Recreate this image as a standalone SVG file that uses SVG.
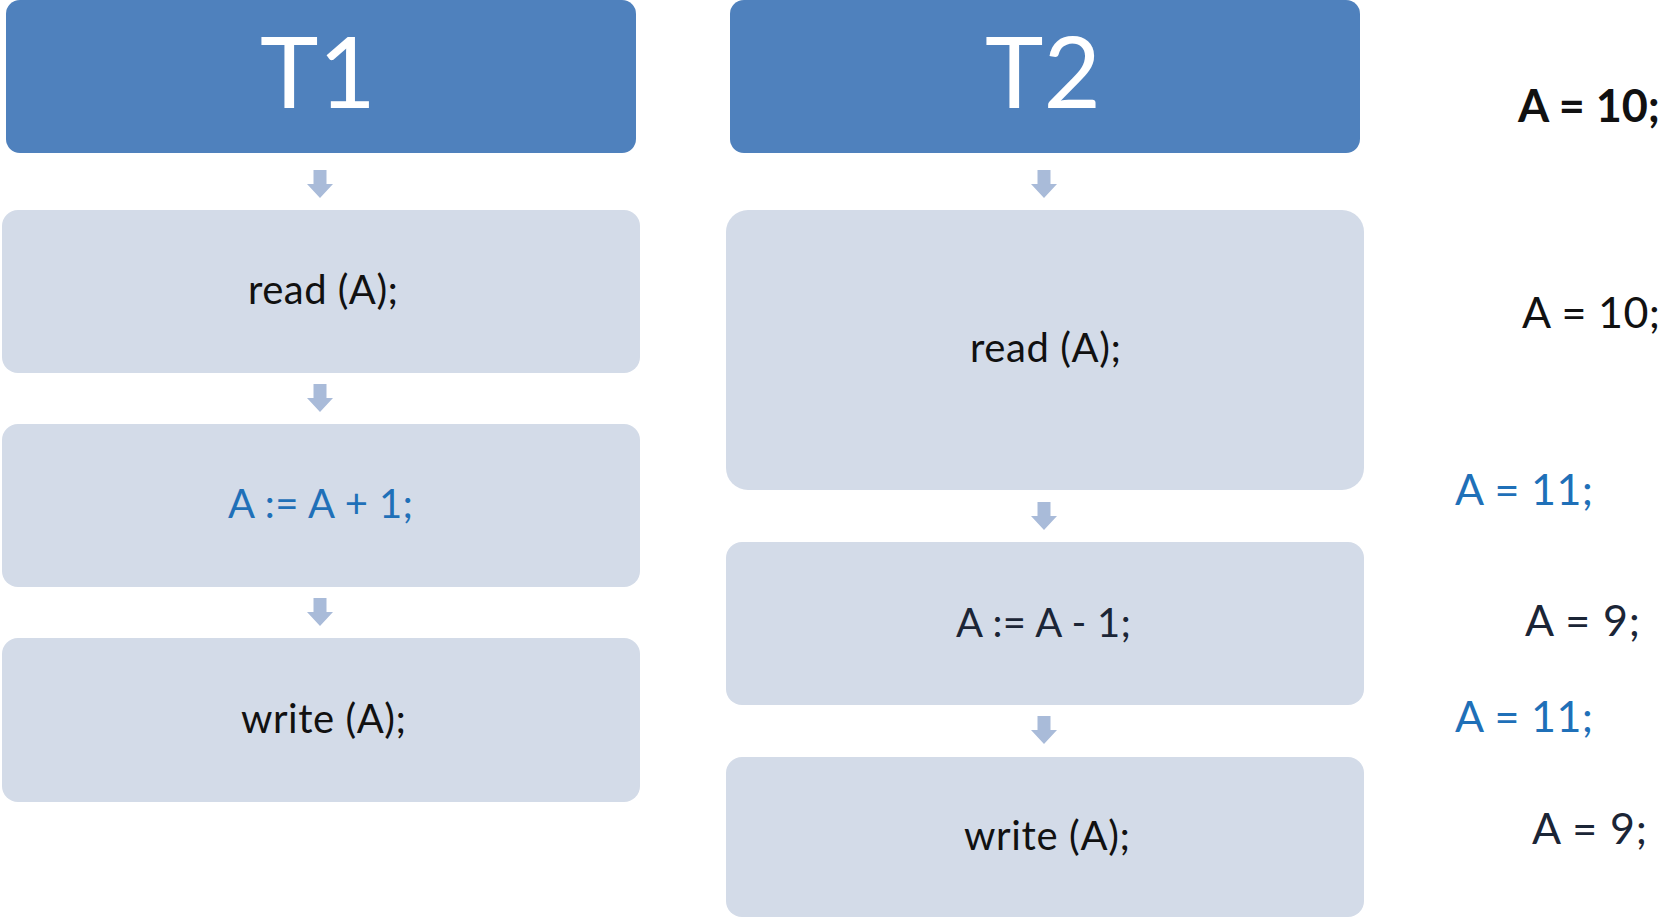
<svg xmlns="http://www.w3.org/2000/svg" width="1671" height="918" viewBox="0 0 1671 918">
  <defs>
    <style>
      .head { fill: #4f81bd; }
      .step { fill: #d3dbe8; }
      .arrow { fill: #a9bbd9; }
      .title { font-family: Lato, "Liberation Sans", sans-serif; font-size: 99px; fill: #ffffff; text-anchor: middle; }
      .code { font-family: Lato, "Liberation Sans", sans-serif; font-size: 40px; fill: #111111; }
      .val { font-family: Lato, "Liberation Sans", sans-serif; font-size: 43px; fill: #111111; }
      .bold { font-weight: bold; font-size: 45px; }
      text.blue { fill: #1f70b8; }
      text.navy { fill: #1b2536; }
    </style>
    <!-- down arrow, origin at top centre -->
    <path id="down" d="M -6.5 0 H 6.5 V 14 H 13 L 0 28 L -13 14 H -6.5 Z"/>
  </defs>
  <rect width="1671" height="918" fill="#ffffff"/>

  <!-- T1 column -->
  <g id="t1-head">
    <rect class="head" x="6" y="0" width="630" height="153" rx="14"/>
    <text class="title" x="318" y="108">T1</text>
  </g>
  <g id="t1-read">
    <rect class="step" x="2" y="210" width="638" height="163" rx="16"/>
    <text class="code" x="248" y="304" textLength="150" lengthAdjust="spacing">read (A);</text>
  </g>
  <g id="t1-inc">
    <rect class="step" x="2" y="424" width="638" height="163" rx="16"/>
    <text class="code blue" x="228" y="518" textLength="185" lengthAdjust="spacing">A := A + 1;</text>
  </g>
  <g id="t1-write">
    <rect class="step" x="2" y="638" width="638" height="164" rx="16"/>
    <text class="code" x="241" y="733" textLength="165" lengthAdjust="spacing">write (A);</text>
  </g>

  <!-- T2 column -->
  <g id="t2-head">
    <rect class="head" x="730" y="0" width="630" height="153" rx="14"/>
    <text class="title" x="1043" y="108">T2</text>
  </g>
  <g id="t2-read">
    <rect class="step" x="726" y="210" width="638" height="280" rx="22"/>
    <text class="code" x="970" y="362" textLength="151" lengthAdjust="spacing">read (A);</text>
  </g>
  <g id="t2-dec">
    <rect class="step" x="726" y="542" width="638" height="163" rx="16"/>
    <text class="code navy" x="956" y="637" textLength="175" lengthAdjust="spacing">A := A - 1;</text>
  </g>
  <g id="t2-write">
    <rect class="step" x="726" y="757" width="638" height="160" rx="16"/>
    <text class="code" x="964" y="850" textLength="166" lengthAdjust="spacing">write (A);</text>
  </g>

  <!-- connectors -->
  <g id="connectors" class="arrow">
    <use href="#down" x="320" y="170"/>
    <use href="#down" x="320" y="384"/>
    <use href="#down" x="320" y="598"/>
    <use href="#down" x="1044" y="170"/>
    <use href="#down" x="1044" y="502"/>
    <use href="#down" x="1044" y="716"/>
  </g>

  <!-- value of A -->
  <g id="values">
    <text class="val bold" x="1518" y="122" textLength="142" lengthAdjust="spacing">A = 10;</text>
    <text class="val" x="1522" y="328" textLength="138" lengthAdjust="spacing">A = 10;</text>
    <text class="val blue" x="1455" y="505" textLength="138" lengthAdjust="spacing">A = 11;</text>
    <text class="val navy" x="1525" y="636" textLength="115" lengthAdjust="spacing">A = 9;</text>
    <text class="val blue" x="1455" y="732" textLength="138" lengthAdjust="spacing">A = 11;</text>
    <text class="val navy" x="1532" y="844" textLength="115" lengthAdjust="spacing">A = 9;</text>
  </g>
</svg>
